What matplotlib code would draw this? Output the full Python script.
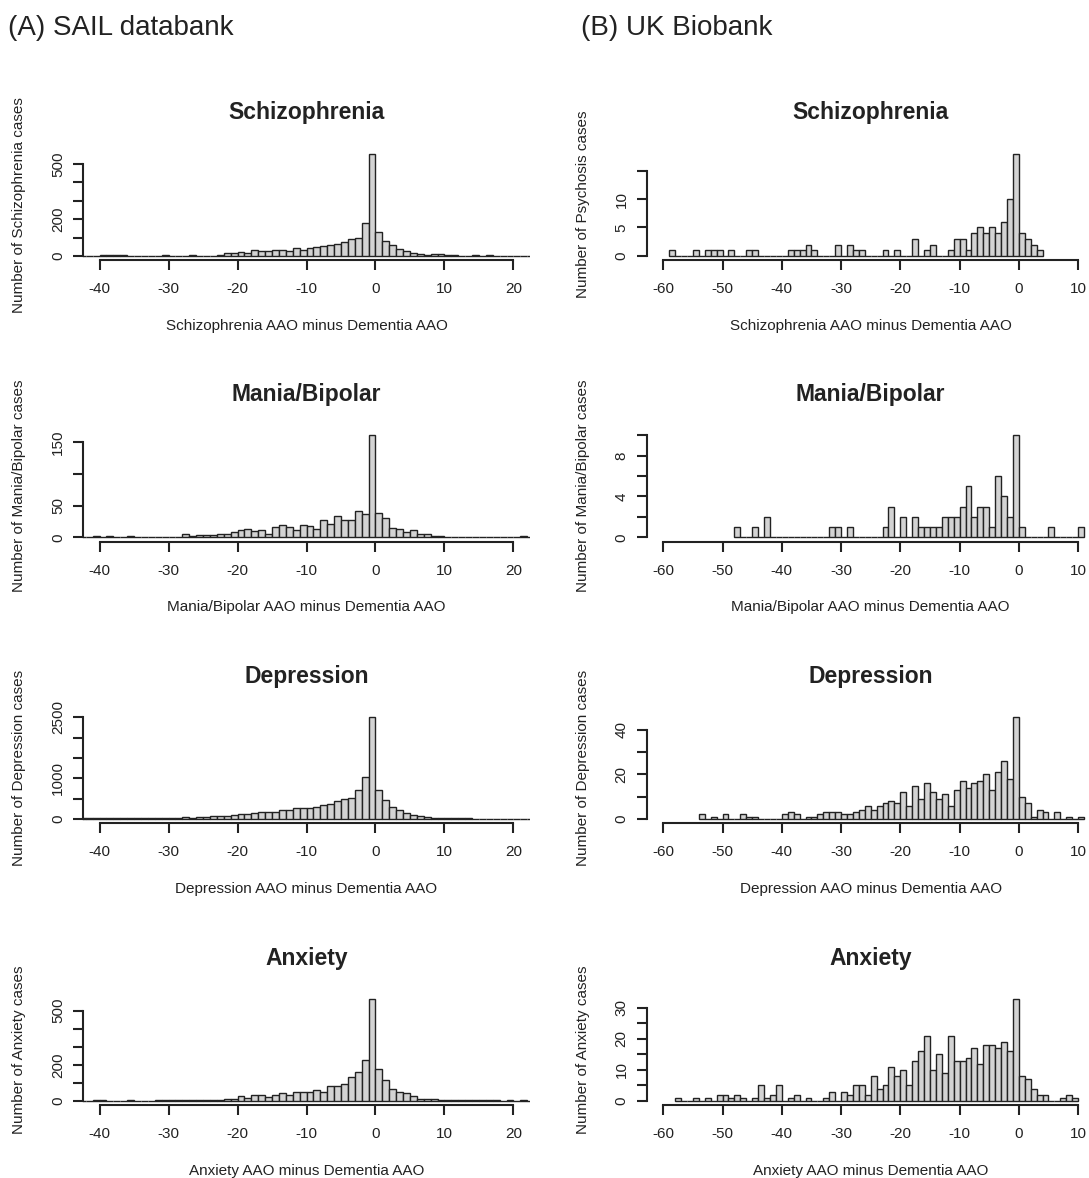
import matplotlib
matplotlib.use("Agg")
import matplotlib.pyplot as plt
import numpy as np

plt.rcParams['font.family'] = ['Liberation Sans', 'DejaVu Sans']
plt.rcParams['axes.unicode_minus'] = False

# counts per 1-year bin, first value belongs to bin [start, start+1)
sail_start = -43
sail_schizophrenia = [1, 1, 2, 3, 4, 4, 3, 2, 1, 1, 2, 2, 3, 2, 1, 2, 3, 2, 1, 1, 4,
                      16, 15, 22, 18, 33, 25, 25, 31, 31, 27, 45, 34, 42, 49, 56, 62, 63, 78, 92, 96, 181, 557,
                      128, 81, 58, 36, 25, 14, 9, 5, 11, 9, 5, 3, 1, 1, 3, 1, 3, 1, 1, 2, 1, 1, 1]
sail_mania = [1, 1, 3, 1, 2, 1, 1, 3, 1, 1, 1, 1, 1, 1, 1,
              6, 3, 4, 4, 4, 5, 6, 9, 12, 13, 10, 11, 6, 16, 19, 16, 11, 19, 18, 13, 28, 21, 34, 27, 28, 41, 37, 161,
              38, 30, 15, 13, 8, 12, 6, 5, 2, 2, 1, 1, 1, 0, 1, 1, 0, 1, 1, 1, 1, 2, 1]
sail_depression = [20, 20, 18, 18, 20, 22, 25, 30, 22, 20, 22, 24, 25, 28, 33, 41, 33, 49, 49, 66, 66,
                   74, 90, 123, 131, 148, 180, 180, 180, 230, 230, 270, 279, 279, 303, 336, 360, 435, 500, 525, 722, 1025, 2517,
                   722, 467, 303, 221, 156, 107, 74, 41, 25, 20, 16, 14, 12, 11, 10, 9, 8, 7, 6, 5, 5, 4, 3]
sail_anxiety = [2, 2, 3, 3, 2, 2, 2, 3, 2, 2, 2, 3, 4, 3, 5, 4, 3, 3, 7, 6, 7,
                11, 11, 28, 17, 35, 35, 24, 33, 44, 33, 50, 50, 48, 61, 52, 81, 81, 91, 133, 159, 228, 566,
                178, 118, 67, 52, 46, 28, 13, 11, 9, 6, 4, 4, 6, 3, 4, 3, 4, 3, 2, 3, 2, 3, 1]

ukb_schizophrenia_start = -59
ukb_schizophrenia = [1, 0, 0, 0, 1, 0, 1, 1, 1, 0,
                     1, 0, 0, 1, 1, 0, 0, 0, 0, 0,
                     1, 1, 1, 2, 1, 0, 0, 0, 2, 0,
                     2, 1, 1, 0, 0, 0, 1, 0, 1, 0,
                     0, 3, 0, 1, 2, 0, 0, 1, 3, 3,
                     1, 4, 5, 4, 5, 4, 6, 10, 18,
                     4, 3, 2, 1]
ukb_mania_start = -48
ukb_mania = [1, 0, 0, 1, 0, 2,
             0, 0, 0, 0, 0, 0, 0, 0, 0, 0,
             1, 1, 0, 1,
             0, 0, 0, 0, 0,
             1, 3, 0, 2, 0, 2, 1, 1, 1, 1, 2, 2, 2, 3, 5, 2, 3, 3, 1, 6, 4, 2, 10,
             1, 0, 0, 0, 0, 1, 0, 0, 0, 0, 1]
ukb_depression_start = -54
ukb_depression = [2, 0, 1, 0, 2, 0, 0, 2, 1, 1,
                  0, 0, 0, 0, 2, 3, 2, 0, 1, 1,
                  2, 3, 3, 3, 2, 2, 3, 4, 6, 4,
                  6, 7, 8, 7, 12, 6, 15, 9, 16, 12,
                  9, 11, 6, 13, 17, 14, 16, 17, 20, 13,
                  21, 26, 18, 46,
                  10, 7, 1, 4, 3, 0, 3, 0, 1, 0, 1]
ukb_anxiety_start = -58
ukb_anxiety = [1, 0, 0, 1, 0, 1, 0, 2, 2, 1,
               2, 1, 0, 1, 5, 1, 2, 5, 0, 1,
               2, 0, 1, 0, 0, 1, 3, 0, 3, 2,
               5, 5, 2, 8, 4, 5, 11, 8, 10, 5,
               13, 16, 21, 10, 15, 9, 21, 13, 13, 14,
               17, 12, 18, 18, 17, 19, 16, 33,
               8, 7, 4, 2, 2, 0, 0, 1, 2, 1]

titles = ['Schizophrenia', 'Mania/Bipolar', 'Depression', 'Anxiety']
xlabels = ['Schizophrenia AAO minus Dementia AAO', 'Mania/Bipolar AAO minus Dementia AAO',
           'Depression AAO minus Dementia AAO', 'Anxiety AAO minus Dementia AAO']
sail_ylabels = ['Number of Schizophrenia cases', 'Number of Mania/Bipolar cases',
                'Number of Depression cases', 'Number of Anxiety cases']
ukb_ylabels = ['Number of Psychosis cases', 'Number of Mania/Bipolar cases',
               'Number of Depression cases', 'Number of Anxiety cases']

sail_xticks = [-40, -30, -20, -10, 0, 10, 20]
ukb_xticks = [-60, -50, -40, -30, -20, -10, 0, 10]

sail_yticks = [[0, 100, 200, 300, 400, 500], [0, 50, 100, 150],
               [0, 500, 1000, 1500, 2000, 2500], [0, 100, 200, 300, 400, 500]]
sail_yticklabels = [['0', '', '200', '', '', '500'], ['0', '50', '', '150'],
                    ['0', '', '1000', '', '', '2500'], ['0', '', '200', '', '', '500']]
ukb_yticks = [[0, 5, 10, 15], [0, 2, 4, 6, 8, 10],
              [0, 10, 20, 30, 40], [0, 5, 10, 15, 20, 25, 30]]
ukb_yticklabels = [['0', '5', '10', ''], ['0', '', '4', '', '8', ''],
                   ['0', '', '20', '', '40'], ['0', '', '10', '', '20', '', '30']]

W, H = 1089, 1178
fig = plt.figure(figsize=(W / 100, H / 100), dpi=100)

ROW_Y = [260, 541.5, 823, 1105]   # pixel row of each x axis line
PH = 110.5                        # plot height in pixels
INK = '#222222'


def px_axes(left, axis_y, width):
    return fig.add_axes([left / W, 1 - axis_y / H, width / W, PH / H])


def draw_hist(ax, start, counts, xlim, xticks, yticks, yticklabels,
              title, xlabel, ylabel, width_px):
    counts = np.asarray(counts)
    edges = start + np.arange(len(counts))
    ax.bar(edges, counts, width=1, align='edge', color='#d3d3d3',
           edgecolor=INK, linewidth=1.0)
    top = counts.max()
    ax.set_xlim(*xlim)
    ax.set_ylim(-0.04 * top, 1.04 * top)

    for s in ['top', 'right']:
        ax.spines[s].set_visible(False)
    for s in ['left', 'bottom']:
        ax.spines[s].set_linewidth(1.5)
        ax.spines[s].set_color(INK)
    ax.spines['left'].set_bounds(yticks[0], yticks[-1])
    ax.spines['bottom'].set_bounds(xticks[0], xticks[-1])

    ax.set_xticks(xticks)
    ax.set_yticks(yticks, labels=yticklabels)
    ax.tick_params(direction='out', length=7, width=1.5, color=INK,
                   labelsize=11, labelcolor=INK)
    ax.tick_params(axis='x', pad=9)
    ax.tick_params(axis='y', pad=6)
    plt.setp(ax.get_yticklabels(), rotation=90, va='center')

    ax.text(0.5, 1 + 36.5 / PH, title, transform=ax.transAxes, ha='center',
            va='center', fontsize=16.5, fontweight='bold', color=INK)
    ax.text(0.5, -66 / PH, xlabel, transform=ax.transAxes, ha='center',
            va='center', fontsize=11, color=INK)
    ax.text(-64 / width_px, 0.5, ylabel, transform=ax.transAxes, ha='center',
            va='center', rotation=90, fontsize=11, color=INK)


sail_data = [sail_schizophrenia, sail_mania, sail_depression, sail_anxiety]
ukb_data = [(ukb_schizophrenia_start, ukb_schizophrenia), (ukb_mania_start, ukb_mania),
            (ukb_depression_start, ukb_depression), (ukb_anxiety_start, ukb_anxiety)]

for i in range(4):
    ax = px_axes(83, ROW_Y[i], 447)
    draw_hist(ax, sail_start, sail_data[i], (-42.4, 22.4), sail_xticks,
              sail_yticks[i], sail_yticklabels[i], titles[i], xlabels[i],
              sail_ylabels[i], 447)

    ax = px_axes(646.7, ROW_Y[i], 448)
    draw_hist(ax, ukb_data[i][0], ukb_data[i][1], (-62.8, 12.8), ukb_xticks,
              ukb_yticks[i], ukb_yticklabels[i], titles[i], xlabels[i],
              ukb_ylabels[i], 448)

fig.text(8 / W, 1 - 28 / H, '(A) SAIL databank', fontsize=20, va='center', color=INK)
fig.text(581 / W, 1 - 28 / H, '(B) UK Biobank', fontsize=20, va='center', color=INK)

fig.savefig('out.png', dpi=100)
